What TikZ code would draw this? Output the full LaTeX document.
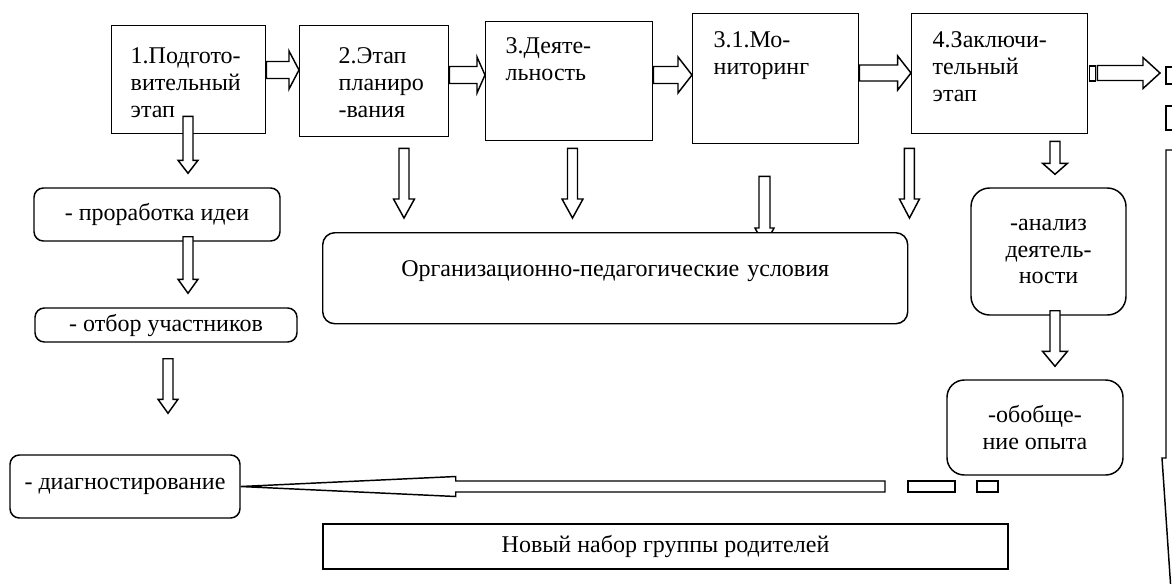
\documentclass[tikz,border=0pt]{standalone}
\usepackage{fontspec}
\setmainfont{Liberation Serif}
\usetikzlibrary{calc}
\pgfdeclarelayer{background}
\pgfsetlayers{background,main}

% block arrows: #1 from, #2 to, #3 head length, #4 half shaft, #5 half head
\newcommand{\harr}[5]{%
  \draw[blk] let \p1=(#1), \p2=(#2) in
    (\x1,{\y1+#4}) -- ({\x2-(#3)},{\y1+#4}) -- ({\x2-(#3)},{\y1+#5}) -- (\x2,\y1)
    -- ({\x2-(#3)},{\y1-#5}) -- ({\x2-(#3)},{\y1-#4}) -- (\x1,{\y1-#4}) -- cycle;}
\newcommand{\varr}[5]{%
  \draw[blk] let \p1=(#1), \p2=(#2) in
    ({\x1-#4},\y1) -- ({\x1-#4},{\y2+#3}) -- ({\x1-#5},{\y2+#3}) -- (\x1,\y2)
    -- ({\x1+#5},{\y2+#3}) -- ({\x1+#4},{\y2+#3}) -- ({\x1+#4},\y1) -- cycle;}

\begin{document}
\begin{tikzpicture}[x=0.75pt, y=-0.75pt,
    every node/.style={font=\fontsize{18}{20}\selectfont},
    stage/.style={draw, line width=1.1pt, fill=white, anchor=north west, align=left, inner ysep=0pt},
    item/.style={draw, line width=1.1pt, fill=white, rounded corners=7pt, align=center, inner sep=2pt},
    blk/.style={draw, line width=1.1pt, fill=white, line join=miter}]

    \useasboundingbox (0,0) rectangle (1172,583);
    \clip (0,0) rectangle (1172,583);

    % Stages along the top.
    \node[stage, text width=87pt, inner xsep=14.25pt, text height=28.5pt, text depth=52.5pt] (prep) at (111,25) {1.Подгото-\\вительный\\этап};
    \node[stage, text width=53.25pt, inner xsep=29.25pt, text height=28.5pt, text depth=54.75pt] (plan) at (299,25) {2.Этап\\планиро\\-вания};
    \node[stage, text width=95.25pt, inner xsep=15pt, text height=24pt, text depth=65.25pt] (act) at (485,21) {3.Деяте-\\льность};
    \node[stage, text width=93pt, inner xsep=15.75pt, text height=25.5pt, text depth=72pt] (mon) at (692,13) {3.1.Мо-\\ниторинг};
    \node[stage, text width=100.5pt, inner xsep=15.75pt, text height=25.5pt, text depth=64.5pt] (fin) at (911,13) {4.Заключи-\\тельный\\этап};

    % Left column.
    \node[item, minimum width=184.5pt, minimum height=39.75pt] (idea) at (157,214.5) {- проработка идеи};
    \node[item, minimum width=196.5pt, minimum height=25.5pt] (pick) at (166,325) {- отбор участников};
    \node[item, minimum width=172.5pt, minimum height=47.25pt] (diag) at (125,486.5) {- диагностирование};

    % Conditions.
    \node[item, rounded corners=9pt, anchor=north west, text width=438.75pt, inner sep=0pt, text height=33pt, text depth=35.25pt] (cond) at (322,232) {Организационно-педагогические условия};

    % Right column.
    \node[item, rounded corners=14pt, minimum width=116.25pt, minimum height=95.25pt] (anl) at (1048.5,251.5) {-анализ\\деятель-\\ности};
    \node[item, rounded corners=13pt, minimum width=132pt, minimum height=71.25pt] (gen) at (1035,427.5) {-обобще-\\ние опыта};

    \node[draw, line width=1.1pt, minimum width=513.75pt, minimum height=33.75pt] (recruit) at (665.5,546.5) {Новый набор группы родителей};

    % Arrows between stages.
    \harr{$(prep.north east)+(0,45)$}{plan.west}{7.5pt}{6.375pt}{14.25pt}
    \harr{$(plan.north east)+(0,50)$}{act.west}{6pt}{6.375pt}{13.5pt}
    \harr{$(act.north east)+(0,54)$}{mon.west}{10.5pt}{6.375pt}{13.5pt}
    \harr{$(mon.north east)+(0,60)$}{fin.west}{10pt}{6pt}{12.75pt}

    % Out of the last stage, dashed.
    \coordinate (out) at (1160,73);
    \draw[blk] ($(fin.north east)+(1,53)$) rectangle ($(fin.north east)+(7,68)$);
    \harr{$(fin.north east)+(9,60)$}{out}{12.75pt}{5.625pt}{11.625pt}
    \coordinate (down) at (1175,150);
    \coordinate (downtip) at (1175,650);
    \draw[blk] ($(down)+(-9,-83)$) rectangle ($(down)+(9,-66)$);
    \draw[blk] ($(down)+(-9,-44)$) rectangle ($(down)+(9,-20)$);
    \varr{down}{downtip}{144pt}{6.75pt}{9.75pt}

    % Left column arrows.
    \varr{$(prep.south west)+(77,-18)$}{[yshift=10.5pt]idea.north}{9.75pt}{3.75pt}{7.5pt}
    \varr{$(idea.south)+(31,-5)$}{[yshift=10.5pt]pick.north}{10.5pt}{3.75pt}{7.5pt}
    \varr{$(pick.south)+(2,16)$}{[yshift=30.75pt]diag.north}{10.5pt}{3.75pt}{7.5pt}

    % Into the conditions.
    \varr{$(plan.south west)+(105,11)$}{[yshift=10.5pt]cond.north}{14.25pt}{3.75pt}{7.875pt}
    \varr{$(act.south west)+(87.5,7)$}{[yshift=10.5pt]cond.north}{14.25pt}{3.75pt}{7.875pt}
    \begin{pgfonlayer}{background}
    \varr{$(mon.south west)+(72.5,32)$}{[yshift=-10.5pt]cond.north}{13.5pt}{4.125pt}{7.125pt}
    \end{pgfonlayer}
    \varr{$(mon.south east)+(50,4)$}{[yshift=10.5pt]cond.north}{14.25pt}{3.75pt}{7.5pt}

    % Right column arrows.
    \varr{$(fin.south west)+(144,7)$}{[yshift=9.75pt]anl.north}{8.25pt}{3.75pt}{9.375pt}
    \varr{$(anl.south)+(6.5,-5)$}{[yshift=9.75pt]gen.north}{11.25pt}{3.75pt}{9.375pt}

    % Back to diagnostics, dashed.
    \coordinate (back) at (885,486.5);
    \draw[blk] ($(back)+(23,-5.5)$) rectangle ($(back)+(70,5.5)$);
    \draw[blk] ($(back)+(92,-5.5)$) rectangle ($(back)+(113,5.5)$);
    \harr{back}{diag.east}{-161.25pt}{4.125pt}{7.5pt}

\end{tikzpicture}
\end{document}
